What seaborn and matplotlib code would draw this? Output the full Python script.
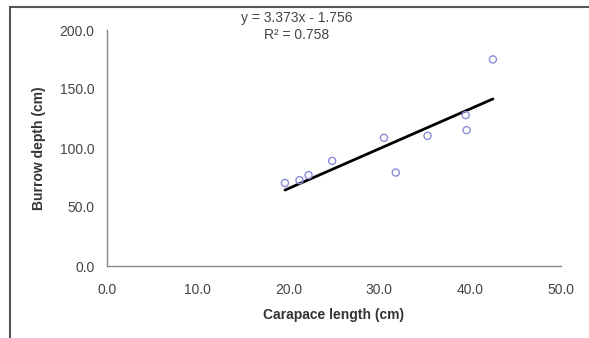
import matplotlib
matplotlib.use("Agg")
import matplotlib.pyplot as plt
import seaborn as sns
import numpy as np
import pandas as pd
from matplotlib.patches import Rectangle

carapace_cm = [19.6, 21.2, 22.2, 24.8, 30.5, 31.8, 35.3, 39.5, 39.6, 42.5]
burrow_cm = [70.4, 72.7, 77.0, 89.1, 108.6, 79.2, 110.3, 127.9, 115.1, 175.1]
slope = 3.373
intercept = -1.756
eq_text = "y = 3.373x - 1.756"
r2_text = "R² = 0.758"
x_ticks = [0, 10, 20, 30, 40, 50]
y_ticks = [0, 50, 100, 150, 200]

sns.set_style("white")
plt.rcParams['font.family'] = ['Liberation Sans', 'DejaVu Sans']

fig = plt.figure(figsize=(5.89, 3.38), dpi=100)
ax = fig.add_axes([107/589, 1 - 266/338, (561-107)/589, (266-30)/338])

df = pd.DataFrame({"x": carapace_cm, "y": burrow_cm})
sns.scatterplot(data=df, x="x", y="y", ax=ax, marker="o", s=26,
                facecolor="none", edgecolor="#8c8cd8", linewidth=1.0, zorder=3)

xl = np.array([min(carapace_cm), max(carapace_cm)])
sns.lineplot(x=xl, y=slope * xl + intercept, ax=ax, color="black", linewidth=2.0, zorder=2)

ax.set_xlim(0, 50)
ax.set_ylim(0, 200)
ax.set_xticks(x_ticks)
ax.set_yticks(y_ticks)
ax.set_xticklabels([f"{t:.1f}" for t in x_ticks])
ax.set_yticklabels([f"{t:.1f}" for t in y_ticks])
for s in ["top", "right"]:
    ax.spines[s].set_visible(False)
for s in ["left", "bottom"]:
    ax.spines[s].set_color("#888888")
    ax.spines[s].set_linewidth(1.0)
ax.tick_params(axis="x", direction="inout", length=6, color="#888888", labelsize=10,
               labelcolor="#444444", pad=9)
ax.tick_params(axis="y", direction="out", length=4, color="#888888", labelsize=10,
               labelcolor="#444444", pad=5)
ax.set_xlabel("Carapace length (cm)", fontsize=10, fontweight="bold", color="#333333", labelpad=8)
ax.set_ylabel("Burrow depth (cm)", fontsize=10, fontweight="bold", color="#333333", labelpad=10)

fig.text(297/589, 1 - 18/338, eq_text, ha="center", va="center", fontsize=10, color="#444444")
fig.text(297/589, 1 - 35/338, r2_text, ha="center", va="center", fontsize=10, color="#444444")

fig.patches.append(Rectangle((10/589, -0.1), 1.2, 1 - 7/338 + 0.1, transform=fig.transFigure,
                             fill=False, edgecolor="#555555", linewidth=1.5))

fig.savefig("out.png", dpi=100)
